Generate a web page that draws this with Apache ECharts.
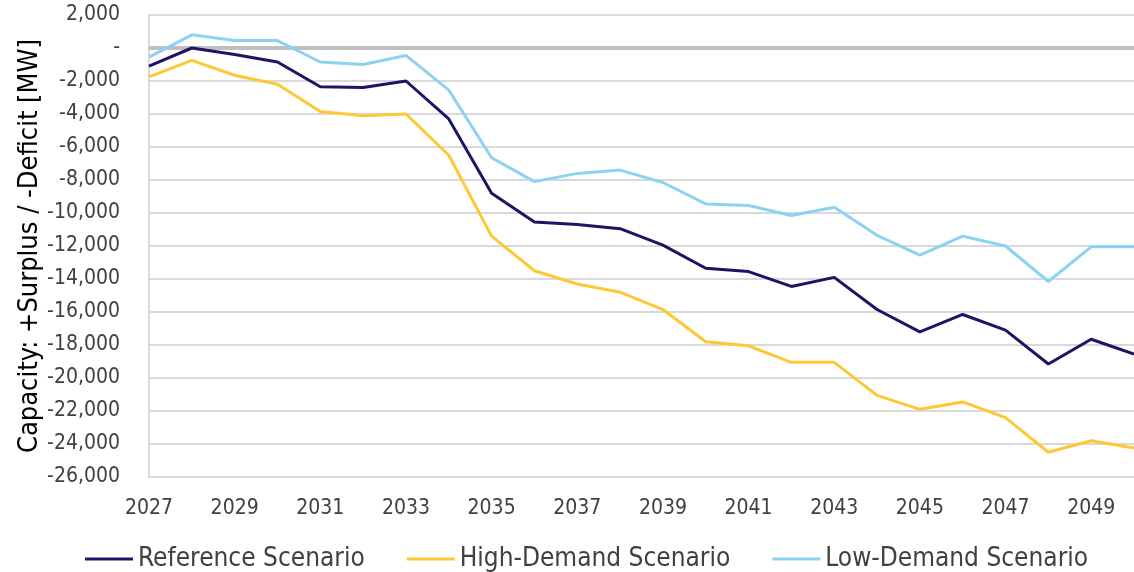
<!DOCTYPE html>
<html>
<head>
<meta charset="utf-8">
<script src="https://cdn.jsdelivr.net/npm/echarts@6/dist/echarts.min.js"></script>
<style>html,body{margin:0;padding:0;background:#fff}#c{width:1134px;height:572px}</style>
</head>
<body>
<div id="c"></div>
<script>
const years = ['2027','2028','2029','2030','2031','2032','2033','2034','2035','2036','2037','2038','2039','2040','2041','2042','2043','2044','2045','2046','2047','2048','2049','2050'];
const referenceScenario = [-1100, 0, -400, -850, -2350, -2400, -2000, -4300, -8800, -10550, -10700, -10950, -11950, -13350, -13550, -14450, -13900, -15850, -17200, -16150, -17100, -19150, -17650, -18550];
const highDemandScenario = [-1750, -750, -1650, -2200, -3850, -4100, -4000, -6500, -11400, -13500, -14300, -14800, -15850, -17800, -18050, -19050, -19050, -21050, -21900, -21450, -22400, -24500, -23800, -24250];
const lowDemandScenario = [-550, 800, 450, 450, -850, -1000, -450, -2550, -6650, -8100, -7600, -7400, -8150, -9450, -9550, -10150, -9650, -11350, -12550, -11400, -12000, -14150, -12050, -12050];
const seriesNames = ['Reference Scenario', 'High-Demand Scenario', 'Low-Demand Scenario'];
const yTicks = {min: -26000, max: 2000, interval: 2000};

const chart = echarts.init(document.getElementById('c'));
const font = '"DejaVu Sans Condensed", "Liberation Sans"';
function fmt(v){
  if (v === 0) return '-';
  return v.toLocaleString('en-US');
}
chart.setOption({
  animation: false,
  textStyle: {fontFamily: font},
  color: ['#1e1466', '#fec834', '#8dd2f2'],
  grid: {left: 149, right: -4, top: 15, bottom: 95},
  legend: {
    left: 80, top: 541,
    icon: 'rect', itemWidth: 48, itemHeight: 3, itemGap: 42,
    textStyle: {fontSize: 26, color: '#404040', fontFamily: font},
    data: seriesNames
  },
  xAxis: {
    type: 'category', data: years, boundaryGap: false,
    axisLine: {show: true, lineStyle: {color: '#d9d9d9', width: 2}},
    axisTick: {show: false},
    axisLabel: {interval: 1, fontSize: 21, color: '#404040', margin: 21, fontFamily: font},
    splitLine: {show: false}
  },
  yAxis: {
    type: 'value', min: yTicks.min, max: yTicks.max, interval: yTicks.interval,
    name: 'Capacity: +Surplus / -Deficit [MW]', nameLocation: 'middle', nameGap: 106,
    nameMoveOverlap: false,
    nameTextStyle: {fontSize: 27, color: '#000', fontFamily: font},
    axisLine: {show: true, lineStyle: {color: '#d9d9d9', width: 2}},
    axisTick: {show: false},
    axisLabel: {fontSize: 21, color: '#404040', margin: 29, formatter: fmt, fontFamily: font},
    splitLine: {show: true, lineStyle: {color: '#d9d9d9', width: 2}}
  },
  series: [
    {
      name: seriesNames[0], type: 'line', data: referenceScenario, symbol: 'none',
      lineStyle: {width: 3},
      markLine: {
        silent: true, symbol: 'none', label: {show: false},
        lineStyle: {color: '#bfbfbf', width: 4, type: 'solid'},
        data: [{yAxis: 0}], z: 1
      },
      z: 3
    },
    {name: seriesNames[1], type: 'line', data: highDemandScenario, symbol: 'none', lineStyle: {width: 3}, z: 3},
    {name: seriesNames[2], type: 'line', data: lowDemandScenario, symbol: 'none', lineStyle: {width: 3}, z: 3}
  ]
});
</script>
</body>
</html>
